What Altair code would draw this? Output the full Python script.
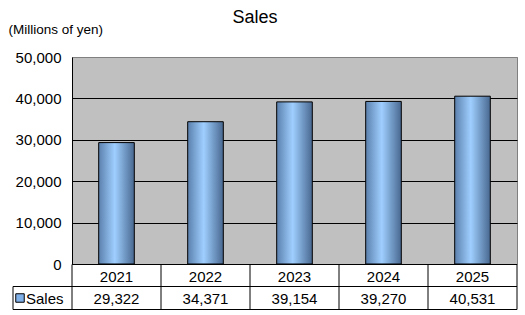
import altair as alt
import pandas as pd

years = ["2021", "2022", "2023", "2024", "2025"]
sales = [29322, 34371, 39154, 39270, 40531]
series_name = ["Sales"]
title_text = ["Sales"]
unit_label = "(Millions of yen)"
y_ticks = [0, 10000, 20000, 30000, 40000, 50000]

df = pd.DataFrame({"year": years, "sales": sales})
one = pd.DataFrame({"name": series_name})
ttl = pd.DataFrame({"t": title_text})

FONT = "Liberation Sans"
W, H = 445, 207

xenc = alt.X("year:N", sort=years,
             scale=alt.Scale(paddingInner=0, paddingOuter=0), axis=None)

grad = alt.Gradient(
    gradient="linear", x1=0, x2=1, y1=0, y2=0,
    stops=[alt.GradientStop(color="#5b80ad", offset=0),
           alt.GradientStop(color="#9fcfff", offset=0.45),
           alt.GradientStop(color="#486890", offset=1)])

bars = alt.Chart(df).mark_bar(
    width=alt.RelativeBandSize(0.4), color=grad, stroke="black", strokeWidth=1
).encode(
    x=xenc,
    y=alt.Y("sales:Q", scale=alt.Scale(domain=[0, 50000], nice=False),
            axis=alt.Axis(values=y_ticks, format=",.0f", ticks=False,
                          labelPadding=11, labelFontSize=15, labelFont=FONT,
                          labelColor="black", domainColor="black",
                          grid=True,
                          gridColor=alt.condition("datum.value == 50000 || datum.value == 0",
                                                  alt.value("#808080"), alt.value("black")),
                          gridOpacity=1,
                          title=unit_label, titleAngle=0, titleX=-64, titleY=-28,
                          titleAlign="left", titleBaseline="middle",
                          titleFontSize=13.5, titleFontWeight="normal",
                          titleFont=FONT, titleColor="black")),
)

year_text = alt.Chart(df).mark_text(fontSize=15, font=FONT, color="black",
                                    baseline="middle").encode(
    x=xenc, y=alt.value(219.5), text="year:N")

val_text = alt.Chart(df).mark_text(fontSize=15, font=FONT, color="black",
                                   baseline="middle").encode(
    x=xenc, y=alt.value(241.5), text=alt.Text("sales:Q", format=","))

vlines = alt.Chart(df).mark_rule(color="black", strokeWidth=1).encode(
    x=alt.X("year:N", sort=years, bandPosition=0,
            scale=alt.Scale(paddingInner=0, paddingOuter=0), axis=None),
    y=alt.value(207.5), y2=alt.value(252.5))

base1 = alt.Chart(one)
right_line = base1.mark_rule(color="black").encode(
    x=alt.value(445), y=alt.value(207.5), y2=alt.value(252.5))
leg_left = base1.mark_rule(color="black").encode(
    x=alt.value(-59), y=alt.value(229.5), y2=alt.value(252.5))
h_top = base1.mark_rule(color="black").encode(
    x=alt.value(0), x2=alt.value(445), y=alt.value(207.5))
h_mid = base1.mark_rule(color="black").encode(
    x=alt.value(-59), x2=alt.value(445), y=alt.value(229.5))
h_bot = base1.mark_rule(color="black").encode(
    x=alt.value(-59), x2=alt.value(445), y=alt.value(252.5))

swatch = base1.mark_square(size=72, fill="#80b0e8", stroke="black",
                           strokeWidth=1, opacity=1).encode(
    x=alt.value(-52), y=alt.value(241))
leg_text = base1.mark_text(fontSize=15, font=FONT, color="black", align="left",
                           baseline="middle").encode(
    x=alt.value(-46), y=alt.value(241.5), text="name:N")

title = alt.Chart(ttl).mark_text(fontSize=18, font=FONT, color="black",
                                 baseline="middle").encode(
    x=alt.value(183), y=alt.value(-39), text="t:N")

chart = alt.layer(
    bars, vlines, right_line, leg_left, h_top, h_mid, h_bot,
    year_text, val_text, swatch, leg_text, title
).properties(
    width=W, height=H,
    autosize=alt.AutoSizeParams(type="none"),
    padding={"left": 72, "top": 57, "right": 8, "bottom": 51},
    background="white",
).configure_view(fill="#c0c0c0", stroke="#808080", strokeWidth=1)

chart.save("out.html", embed_options={"renderer": "svg", "actions": False})
